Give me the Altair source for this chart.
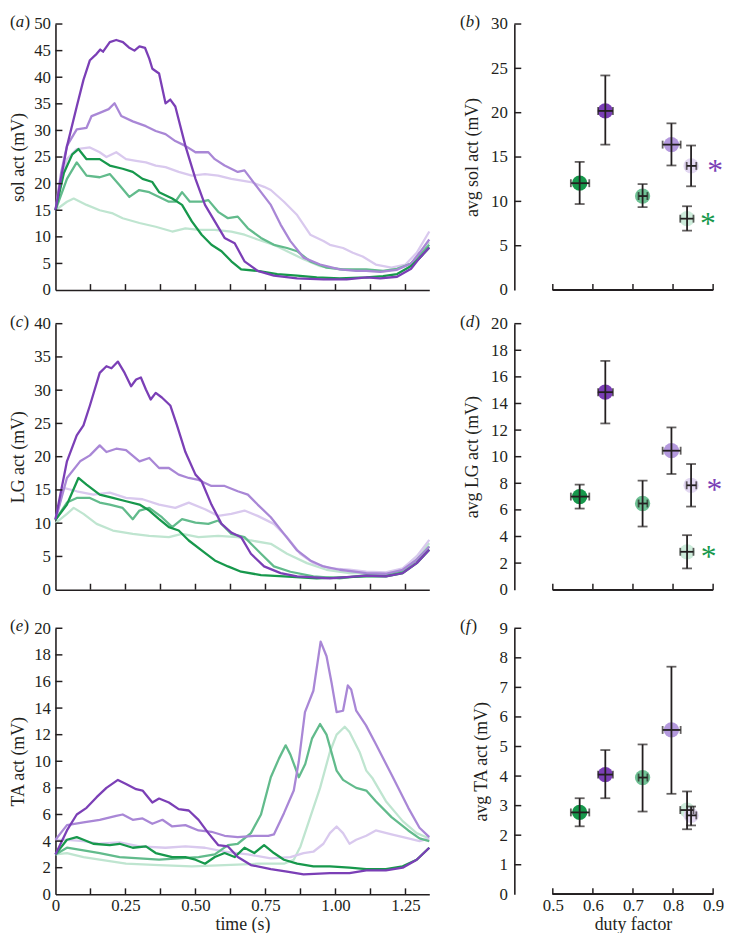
import altair as alt
import pandas as pd

FONT = "Liberation Serif"
INK = "#231f20"

# line colours: dark / medium / light purple and green
DP_C, MP_C, LP_C = "#7b3fb6", "#a987d6", "#d9c9ee"
DG_C, MG_C, LG_C = "#17984c", "#62bb8c", "#bfe5d0"

TIME_MAX = 1.335
TIME_TICKS = [0.125, 0.25, 0.375, 0.5, 0.625, 0.75, 0.875, 1.0, 1.125, 1.25]
TIME_LABELS = [0, 0.25, 0.5, 0.75, 1.0, 1.25]
DUTY_MIN = 0.404
DUTY_TICKS = [0.5, 0.6, 0.7, 0.8, 0.9]

# ---------------- (a) soleus activity traces (time s, mV)
SOL_DP = [(0, 15), (0.02, 21), (0.041, 27), (0.076, 34.5), (0.1, 39.5), (0.123, 43.2), (0.147, 44.4), (0.16, 45.2), (0.17, 44.8), (0.194, 46.6), (0.217, 47.0), (0.241, 46.6), (0.262, 45.6), (0.282, 45.0), (0.3, 45.8), (0.32, 45.5), (0.335, 43.5), (0.346, 41.6), (0.37, 40.7), (0.393, 35.1), (0.41, 35.8), (0.428, 34.5), (0.464, 27.1), (0.5, 20.9), (0.534, 16), (0.569, 12.9), (0.604, 9.8), (0.64, 8.8), (0.675, 5.4), (0.722, 3.6), (0.78, 2.7), (0.863, 2.2), (0.957, 2.0), (1.04, 2.0), (1.11, 2.4), (1.16, 2.2), (1.22, 2.5), (1.27, 4), (1.3, 6), (1.335, 8)]
SOL_MP = [(0, 15), (0.02, 22), (0.041, 27.1), (0.076, 30.2), (0.111, 30.5), (0.129, 32.7), (0.158, 33.3), (0.19, 34), (0.211, 35.1), (0.235, 32.7), (0.276, 31.7), (0.323, 30.8), (0.358, 29.9), (0.393, 29.3), (0.428, 28.0), (0.464, 27.1), (0.5, 25.9), (0.546, 25.9), (0.569, 24.6), (0.604, 23.4), (0.651, 22.2), (0.675, 22.5), (0.698, 20.9), (0.734, 18.4), (0.769, 16), (0.804, 12.3), (0.839, 9.2), (0.886, 6.1), (0.945, 4.8), (1.015, 3.9), (1.074, 3.6), (1.11, 3.6), (1.16, 3.4), (1.22, 3.8), (1.27, 5), (1.3, 7), (1.335, 9.5)]
SOL_LP = [(0, 15), (0.018, 19.7), (0.041, 24.6), (0.076, 26.5), (0.123, 26.8), (0.158, 25.9), (0.182, 25.0), (0.217, 25.9), (0.252, 24.6), (0.288, 24.3), (0.323, 24), (0.358, 23.4), (0.393, 23.1), (0.44, 22.2), (0.487, 21.5), (0.534, 21.8), (0.581, 21.5), (0.628, 20.9), (0.698, 20.3), (0.745, 19.4), (0.769, 18.8), (0.816, 16.6), (0.863, 14.1), (0.91, 10.4), (0.957, 9.2), (0.98, 8.5), (1.027, 7.9), (1.062, 7.0), (1.097, 6.3), (1.144, 4.8), (1.2, 4.2), (1.25, 4.8), (1.29, 7), (1.335, 11)]
SOL_DG = [(0, 15), (0.03, 22), (0.06, 25.5), (0.082, 26.5), (0.111, 24.6), (0.158, 24.6), (0.194, 23.4), (0.24, 22.8), (0.276, 22.2), (0.311, 20.9), (0.346, 20.3), (0.37, 18.4), (0.417, 17.2), (0.452, 16), (0.487, 12.9), (0.522, 10.4), (0.557, 8.5), (0.593, 7.3), (0.628, 5.4), (0.663, 3.9), (0.722, 3.6), (0.792, 3.0), (0.863, 2.7), (0.933, 2.4), (1.015, 2.2), (1.11, 2.4), (1.17, 2.6), (1.22, 3.0), (1.27, 4.5), (1.3, 6), (1.335, 8)]
SOL_MG = [(0, 15), (0.041, 20.9), (0.076, 24.0), (0.111, 21.5), (0.158, 21.2), (0.194, 21.8), (0.229, 19.7), (0.264, 17.5), (0.299, 18.8), (0.335, 18.4), (0.37, 17.5), (0.405, 16.6), (0.428, 16.6), (0.452, 18.4), (0.48, 16.6), (0.522, 16.6), (0.546, 16.9), (0.581, 14.7), (0.616, 13.5), (0.651, 13.8), (0.687, 11.6), (0.734, 9.8), (0.78, 8.5), (0.827, 7.9), (0.863, 7.3), (0.91, 5.4), (0.968, 4.2), (1.027, 3.9), (1.11, 3.9), (1.17, 3.6), (1.22, 4), (1.27, 5), (1.3, 6.5), (1.335, 8.5)]
SOL_LG = [(0, 15), (0.041, 16.6), (0.065, 17.2), (0.111, 16), (0.158, 15), (0.205, 14.4), (0.24, 13.5), (0.3, 12.6), (0.358, 11.9), (0.417, 11.0), (0.464, 11.6), (0.511, 11.3), (0.569, 11.3), (0.628, 11), (0.675, 10.4), (0.722, 9.5), (0.78, 8.5), (0.827, 7.3), (0.886, 5.8), (0.945, 4.5), (1.015, 3.9), (1.11, 3.6), (1.17, 3.5), (1.22, 4), (1.27, 5), (1.3, 7), (1.335, 9)]

# ---------------- (c) lateral gastrocnemius traces
LG_DP = [(0, 10.6), (0.041, 19.3), (0.076, 23.2), (0.1, 24.7), (0.123, 27.7), (0.158, 32.6), (0.182, 33.6), (0.2, 33.3), (0.223, 34.3), (0.247, 32.6), (0.27, 30.6), (0.288, 31.6), (0.305, 31.9), (0.323, 30.1), (0.34, 28.6), (0.358, 29.6), (0.38, 28.9), (0.41, 27.7), (0.434, 24.7), (0.464, 20.7), (0.5, 17.3), (0.522, 16.3), (0.557, 12.8), (0.593, 9.9), (0.628, 8.6), (0.663, 7.9), (0.698, 5.4), (0.745, 3.5), (0.804, 2.5), (0.863, 2.0), (0.98, 1.7), (1.11, 2.1), (1.18, 2.0), (1.24, 2.5), (1.29, 4), (1.335, 6)]
LG_MP = [(0, 10.5), (0.041, 16.8), (0.088, 19.3), (0.123, 20.2), (0.158, 21.7), (0.182, 20.7), (0.217, 21.2), (0.252, 21), (0.3, 19.3), (0.335, 19.8), (0.37, 18.3), (0.405, 18.3), (0.44, 17.3), (0.476, 16.8), (0.511, 16.5), (0.557, 15.6), (0.604, 15.6), (0.651, 14.8), (0.687, 14.3), (0.722, 12.8), (0.769, 10.9), (0.816, 8.4), (0.863, 5.9), (0.91, 4.4), (0.957, 3.5), (1.015, 3.0), (1.11, 2.5), (1.18, 2.4), (1.24, 3), (1.29, 4.5), (1.335, 6.5)]
LG_LP = [(0, 10.5), (0.029, 15.3), (0.076, 14.8), (0.135, 14.3), (0.194, 14.6), (0.252, 13.8), (0.311, 13.6), (0.37, 12.8), (0.428, 12.3), (0.476, 13.1), (0.534, 12.1), (0.581, 11.1), (0.628, 11.4), (0.675, 11.9), (0.722, 11.1), (0.78, 9.9), (0.827, 7.9), (0.874, 5.4), (0.921, 4.0), (0.98, 3.2), (1.05, 3.0), (1.11, 2.7), (1.18, 2.6), (1.24, 3.2), (1.29, 5), (1.335, 7.5)]
LG_DG = [(0, 10.5), (0.041, 12.8), (0.082, 16.8), (0.111, 15.8), (0.158, 14.3), (0.205, 13.8), (0.252, 13.3), (0.3, 12.8), (0.335, 11.9), (0.37, 10.6), (0.405, 9.4), (0.44, 8.9), (0.476, 7.4), (0.522, 5.9), (0.569, 4.4), (0.616, 3.5), (0.663, 2.7), (0.734, 2.2), (0.816, 2.0), (0.933, 1.7), (1.11, 2.0), (1.18, 2.0), (1.24, 2.5), (1.29, 4), (1.335, 6)]
LG_MG = [(0, 10.5), (0.041, 13.1), (0.076, 13.8), (0.123, 13.8), (0.158, 13.1), (0.194, 12.8), (0.24, 12.3), (0.276, 10.6), (0.3, 11.9), (0.335, 12.3), (0.38, 10.9), (0.417, 9.4), (0.452, 10.6), (0.5, 10.1), (0.546, 9.9), (0.581, 10.4), (0.628, 8.4), (0.675, 7.9), (0.734, 5.4), (0.78, 3.5), (0.839, 2.7), (0.921, 2.0), (1.015, 1.7), (1.11, 2.2), (1.18, 2.2), (1.24, 2.8), (1.29, 4.5), (1.335, 6.5)]
LG_LG = [(0, 10), (0.041, 11.4), (0.065, 12.3), (0.1, 11.4), (0.147, 9.9), (0.205, 8.9), (0.276, 8.4), (0.335, 8.1), (0.405, 7.9), (0.452, 8.4), (0.511, 7.9), (0.581, 8.1), (0.651, 7.9), (0.698, 7.4), (0.769, 6.9), (0.827, 5.4), (0.898, 4.0), (0.968, 3.0), (1.05, 2.5), (1.11, 2.5), (1.18, 2.5), (1.24, 3), (1.29, 5), (1.335, 7)]

# ---------------- (e) tibialis anterior traces
TA_DP = [(0, 3.0), (0.041, 4.8), (0.076, 6.0), (0.111, 6.5), (0.147, 7.3), (0.182, 8.0), (0.223, 8.6), (0.252, 8.3), (0.288, 7.9), (0.311, 7.8), (0.346, 6.9), (0.37, 7.2), (0.405, 6.9), (0.44, 6.4), (0.476, 6.3), (0.511, 5.6), (0.546, 4.6), (0.581, 3.7), (0.616, 3.6), (0.651, 2.8), (0.698, 2.2), (0.769, 1.9), (0.827, 1.7), (0.886, 1.5), (0.98, 1.6), (1.05, 1.6), (1.11, 1.8), (1.18, 1.8), (1.24, 2), (1.29, 2.6), (1.335, 3.5)]
TA_MP = [(0, 4.1), (0.041, 5.2), (0.1, 5.4), (0.158, 5.6), (0.217, 5.9), (0.24, 6.0), (0.276, 5.6), (0.311, 5.7), (0.346, 5.3), (0.382, 5.6), (0.417, 5.1), (0.464, 5.2), (0.511, 4.8), (0.557, 4.7), (0.604, 4.4), (0.651, 4.3), (0.71, 4.4), (0.76, 4.4), (0.78, 4.5), (0.816, 6.1), (0.851, 7.8), (0.869, 10), (0.891, 13.7), (0.921, 15.3), (0.947, 19.0), (0.968, 17.9), (0.986, 15.9), (1.004, 13.7), (1.027, 13.8), (1.044, 15.7), (1.056, 15.4), (1.074, 13.8), (1.109, 12.7), (1.144, 11.3), (1.2, 9), (1.26, 6.5), (1.3, 5), (1.335, 4.3)]
TA_LP = [(0, 4.1), (0.041, 4.1), (0.1, 4.0), (0.158, 3.8), (0.229, 3.9), (0.3, 3.6), (0.393, 3.5), (0.464, 3.6), (0.534, 3.5), (0.604, 3.2), (0.687, 3.0), (0.769, 2.7), (0.839, 2.8), (0.886, 3.1), (0.921, 3.2), (0.957, 3.8), (0.98, 4.6), (1.004, 5.1), (1.027, 4.6), (1.05, 3.8), (1.074, 4.1), (1.11, 4.4), (1.144, 4.8), (1.2, 4.5), (1.26, 4.2), (1.3, 4.0), (1.335, 4.2)]
TA_DG = [(0, 3.0), (0.041, 4.1), (0.076, 4.3), (0.1, 4.1), (0.135, 3.8), (0.194, 3.7), (0.229, 3.8), (0.276, 3.5), (0.323, 3.6), (0.358, 3.1), (0.417, 2.8), (0.464, 2.8), (0.5, 2.6), (0.534, 2.3), (0.569, 2.8), (0.604, 3.1), (0.64, 2.8), (0.675, 3.5), (0.71, 3.1), (0.745, 3.7), (0.78, 3.1), (0.816, 2.6), (0.863, 2.3), (0.921, 2.1), (0.98, 2.1), (1.05, 2.0), (1.11, 1.9), (1.18, 1.9), (1.24, 2.1), (1.29, 2.6), (1.335, 3.5)]
TA_MG = [(0, 3.0), (0.041, 3.5), (0.1, 3.3), (0.158, 3.1), (0.229, 2.8), (0.3, 2.7), (0.37, 2.6), (0.44, 2.7), (0.511, 2.8), (0.569, 3.0), (0.616, 3.7), (0.651, 3.8), (0.698, 4.6), (0.734, 6.0), (0.769, 8.8), (0.798, 10.2), (0.822, 11.2), (0.839, 10.5), (0.869, 8.8), (0.892, 9.8), (0.916, 11.7), (0.945, 12.8), (0.968, 12.0), (1.004, 9.3), (1.027, 8.6), (1.05, 8.3), (1.074, 8.0), (1.11, 7.8), (1.144, 7.0), (1.2, 5.8), (1.26, 4.8), (1.3, 4.2), (1.335, 4.0)]
TA_LG = [(0, 3.0), (0.041, 3.1), (0.1, 2.8), (0.158, 2.6), (0.252, 2.3), (0.37, 2.2), (0.487, 2.1), (0.604, 2.2), (0.722, 2.3), (0.816, 2.3), (0.851, 2.6), (0.875, 3.6), (0.91, 5.8), (0.945, 8.0), (0.98, 10.7), (1.004, 12.0), (1.033, 12.6), (1.05, 12.2), (1.086, 10.7), (1.11, 9.3), (1.133, 8.7), (1.18, 7), (1.24, 5.5), (1.29, 4.6), (1.335, 4.2)]

# ---------------- right column: averages vs duty factor
GROUPS = ["DG", "DP", "MG", "MP", "LG", "LP"]
FILLS = ["#17984c", "#7b3fb6", "#6fc295", "#b499dd", "#cdecdb", "#e3d8f2"]
DUTY = [0.567, 0.631, 0.724, 0.796, 0.835, 0.845]
DUTY_LO = [0.545, 0.613, 0.714, 0.774, 0.818, 0.834]
DUTY_HI = [0.591, 0.650, 0.736, 0.819, 0.851, 0.858]

SOL_AVG = [12.05, 20.2, 10.6, 16.4, 8.05, 14.0]
SOL_LO = [9.7, 16.4, 9.35, 14.05, 6.7, 11.7]
SOL_HI = [14.45, 24.2, 11.95, 18.8, 9.45, 16.3]
LGA_AVG = [7.0, 14.85, 6.48, 10.45, 2.85, 7.85]
LGA_LO = [6.1, 12.5, 4.75, 8.7, 1.6, 6.25]
LGA_HI = [7.9, 17.2, 8.2, 12.2, 4.1, 9.45]
TAA_AVG = [2.77, 4.05, 3.95, 5.56, 2.85, 2.67]
TAA_LO = [2.3, 3.25, 2.8, 3.4, 2.2, 2.33]
TAA_HI = [3.25, 4.88, 5.07, 7.7, 3.48, 2.97]

SOL_STARS = {"x": [0.905, 0.887], "y": [14.0, 8.0], "c": ["#7b3fb6", "#17984c"]}
LGA_STARS = {"x": [0.903, 0.889], "y": [7.85, 2.8], "c": ["#7b3fb6", "#17984c"]}

LW, RW, H = 378, 201, 269
FS = 17
AX = dict(labelFont=FONT, titleFont=FONT, labelFontSize=FS, titleFontSize=18,
          titleFontWeight="normal", labelColor=INK, titleColor=INK,
          domainColor=INK, domainWidth=1.6, grid=False, ticks=False, labelOverlap=False)
LETTER_W = {"a": 0.5, "b": 0.5, "c": 0.444, "d": 0.5, "e": 0.444, "f": 0.33}


def panel_letter(letter, x0):
    """(x) label: upright brackets, italic letter."""
    w = LETTER_W[letter]
    parts = [("(", x0, "normal"), (letter, x0 + 0.34 * FS, "italic"),
             (")", x0 + (0.36 + w) * FS, "normal")]
    out = []
    for txt, xp, style in parts:
        out.append(alt.Chart(pd.DataFrame({"lab": [txt]})).mark_text(
            font=FONT, fontSize=FS, fontStyle=style, align="left", baseline="middle",
            color=INK).encode(text="lab:N", x=alt.value(xp), y=alt.value(-2)))
    return out


def line_panel(series, ymax, ystep, ytitle, letter, show_x):
    xs = alt.Scale(domain=[0, TIME_MAX], nice=False, zero=False)
    ys = alt.Scale(domain=[0, ymax], nice=False)
    if show_x:
        xaxis = alt.Axis(values=TIME_LABELS, domain=True,
                         labelExpr="datum.value == 0 ? '0' : format(datum.value, '.2f')",
                         labelFlush=False, labelPadding=3,
                         title="time (s)", titlePadding=3, **AX)
    else:
        xaxis = alt.Axis(values=TIME_LABELS, domain=True, labels=False, title=None, **AX)
    yvals = [ystep * i for i in range(0, int(round(ymax / ystep)) + 1)]
    yaxis = alt.Axis(values=yvals, domain=True, format="d", labelPadding=5,
                     title=ytitle, titlePadding=6, **AX)
    X = alt.X("t:Q", scale=xs, axis=xaxis)
    Y = alt.Y("v:Q", scale=ys, axis=yaxis)
    layers = []
    for pts, col in series:
        df = pd.DataFrame(pts, columns=["t", "v"])
        layers.append(alt.Chart(df).mark_line(color=col, strokeWidth=2.3,
                                              strokeJoin="round").encode(x=X, y=Y))
    yt = pd.DataFrame({"v": yvals[1:]})
    layers.append(alt.Chart(yt).mark_rule(color=INK, strokeWidth=1.5).encode(
        y=Y, x=alt.value(0), x2=alt.value(7)))
    xt = pd.DataFrame({"t": TIME_TICKS})
    layers.append(alt.Chart(xt).mark_rule(color=INK, strokeWidth=1.5).encode(
        x=X, y=alt.value(H - 6), y2=alt.value(H)))
    layers += panel_letter(letter, -46)
    return alt.layer(*layers).properties(width=LW, height=H)


def dot_panel(avg, lo, hi, ymax, ystep, ytitle, letter, show_x, stars):
    xs = alt.Scale(domain=[DUTY_MIN, 0.9], nice=False, zero=False)
    ys = alt.Scale(domain=[0, ymax], nice=False)
    # centre of the drawn 0.5-0.9 axis line, in pixels from the plot's left edge
    mid = (0.7 - DUTY_MIN) / (0.9 - DUTY_MIN) * RW
    if show_x:
        xaxis = alt.Axis(values=DUTY_TICKS, domain=False, format=".1f", labelFlush=False,
                         labelPadding=3, title="duty factor", titlePadding=3, titleX=mid, **AX)
    else:
        xaxis = alt.Axis(values=DUTY_TICKS, domain=False, labels=False, title=None, **AX)
    yvals = [ystep * i for i in range(0, int(round(ymax / ystep)) + 1)]
    yaxis = alt.Axis(values=yvals, domain=True, format="d", labelPadding=7,
                     title=ytitle, titlePadding=9, **AX)
    df = pd.DataFrame({"grp": GROUPS, "duty": DUTY, "dlo": DUTY_LO, "dhi": DUTY_HI,
                       "avg": avg, "lo": lo, "hi": hi})
    base = alt.Chart(df)
    XD = alt.X("duty:Q", scale=xs, axis=xaxis)
    XL = alt.X("dlo:Q", scale=xs, axis=xaxis)
    XH = alt.X("dhi:Q", scale=xs, axis=xaxis)
    YA = alt.Y("avg:Q", scale=ys, axis=yaxis)
    YL = alt.Y("lo:Q", scale=ys, axis=yaxis)
    YH = alt.Y("hi:Q", scale=ys, axis=yaxis)
    col = alt.Color("grp:N", scale=alt.Scale(domain=GROUPS, range=FILLS), legend=None)
    layers = [
        base.mark_circle(size=240, opacity=1).encode(x=XD, y=YA, color=col),
        base.mark_rule(color=INK, strokeWidth=1.8).encode(x=XD, y=YL, y2="hi:Q"),
        base.mark_rule(color=INK, strokeWidth=1.8).encode(x=XL, x2="dhi:Q", y=YA),
        base.mark_tick(orient="horizontal", size=10, thickness=1.8, color=INK).encode(x=XD, y=YL),
        base.mark_tick(orient="horizontal", size=10, thickness=1.8, color=INK).encode(x=XD, y=YH),
        base.mark_tick(orient="vertical", size=8, thickness=1.8, color=INK).encode(x=XL, y=YA),
        base.mark_tick(orient="vertical", size=8, thickness=1.8, color=INK).encode(x=XH, y=YA),
    ]
    yt = pd.DataFrame({"v": yvals[1:]})
    layers.append(alt.Chart(yt).mark_rule(color=INK, strokeWidth=1.5).encode(
        y=alt.Y("v:Q", scale=ys, axis=yaxis), x=alt.value(0), x2=alt.value(7)))
    xt = pd.DataFrame({"d": DUTY_TICKS})
    layers.append(alt.Chart(xt).mark_rule(color=INK, strokeWidth=1.5).encode(
        x=alt.X("d:Q", scale=xs, axis=xaxis), y=alt.value(H - 6), y2=alt.value(H)))
    layers.append(alt.Chart(xt).mark_rule(color=INK, strokeWidth=1.6).encode(
        x=alt.X(datum=DUTY_TICKS[0], type="quantitative", scale=xs, axis=xaxis),
        x2=alt.X2(datum=DUTY_TICKS[-1]), y=alt.value(H)))
    if stars is not None:
        sdf = pd.DataFrame(stars)
        layers.append(alt.Chart(sdf).mark_text(text="*", font=FONT, fontSize=32,
                                               baseline="alphabetic", dy=15).encode(
            x=alt.X("x:Q", scale=xs, axis=xaxis), y=alt.Y("y:Q", scale=ys, axis=yaxis),
            color=alt.Color("c:N", scale=None)))
    layers += panel_letter(letter, -55)
    return alt.layer(*layers).properties(width=RW, height=H)


sol_series = [(SOL_LG, LG_C), (SOL_LP, LP_C), (SOL_MG, MG_C), (SOL_MP, MP_C), (SOL_DG, DG_C), (SOL_DP, DP_C)]
lg_series = [(LG_LG, LG_C), (LG_LP, LP_C), (LG_MG, MG_C), (LG_MP, MP_C), (LG_DG, DG_C), (LG_DP, DP_C)]
ta_series = [(TA_LG, LG_C), (TA_LP, LP_C), (TA_MG, MG_C), (TA_MP, MP_C), (TA_DG, DG_C), (TA_DP, DP_C)]

a = line_panel(sol_series, 50, 5, "sol act (mV)", "a", False)
c = line_panel(lg_series, 40, 5, "LG act (mV)", "c", False)
e = line_panel(ta_series, 20, 2, "TA act (mV)", "e", True)
b = dot_panel(SOL_AVG, SOL_LO, SOL_HI, 30, 5, "avg sol act (mV)", "b", False, SOL_STARS)
d = dot_panel(LGA_AVG, LGA_LO, LGA_HI, 20, 2, "avg LG act (mV)", "d", False, LGA_STARS)
f = dot_panel(TAA_AVG, TAA_LO, TAA_HI, 9, 1, "avg TA act (mV)", "f", True, None)

left = alt.vconcat(alt.vconcat(a, c, spacing=15), e, spacing=20)
right = alt.vconcat(alt.vconcat(b, d, spacing=15), f, spacing=20)
chart = alt.hconcat(left, right, spacing=29).properties(
    padding={"left": 2, "top": 0, "right": 0, "bottom": 0}, background="white").configure(
    font=FONT).configure_view(stroke=None)

chart.save("out.html", embed_options={"renderer": "svg", "actions": False})
